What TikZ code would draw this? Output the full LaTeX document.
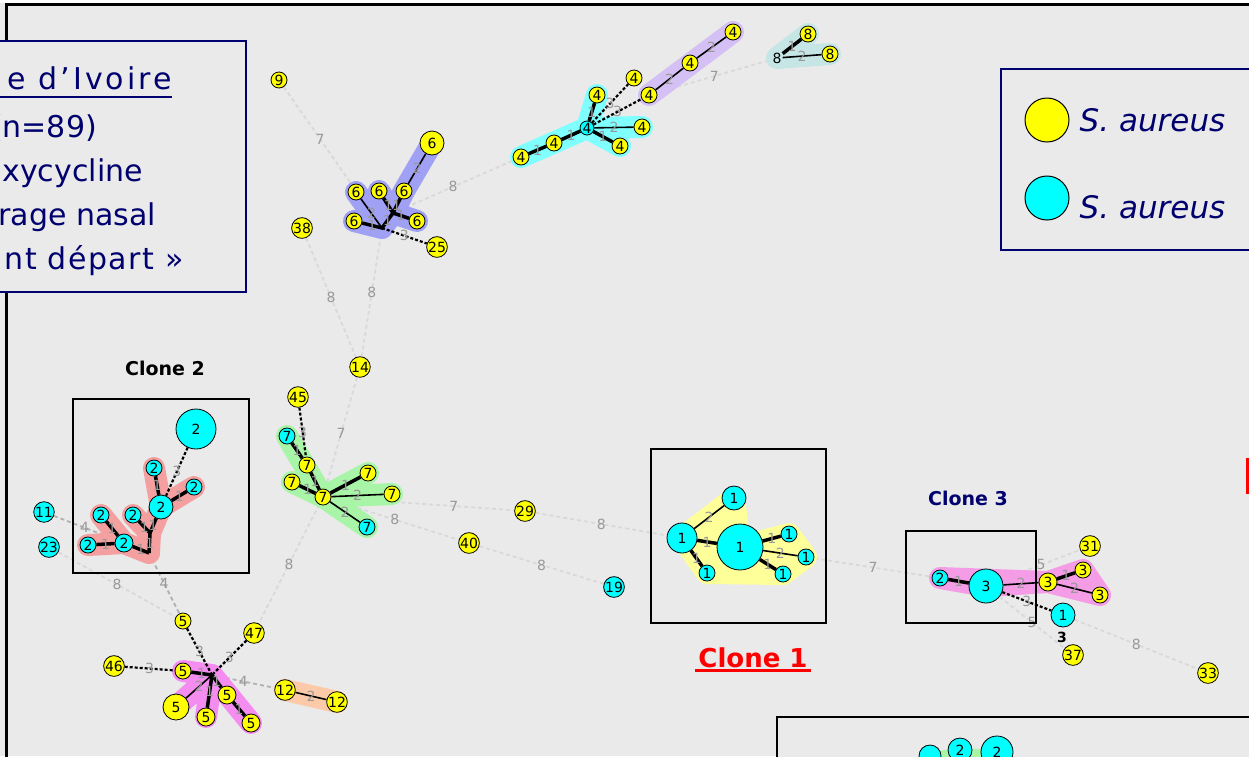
\documentclass[tikz,border=0pt]{standalone}
\usepackage{fontspec}
\setmainfont{DejaVu Sans}
\usetikzlibrary{positioning,calc}

\definecolor{panel}{RGB}{234,234,234}
\definecolor{navy}{RGB}{0,0,110}
\definecolor{aqua}{RGB}{0,255,255}
\definecolor{lemon}{RGB}{255,255,0}
\definecolor{hblue}{RGB}{160,160,245}
\definecolor{hcyan}{RGB}{128,255,255}
\definecolor{hlav}{RGB}{212,192,245}
\definecolor{hteal}{RGB}{198,230,230}
\definecolor{hgreen}{RGB}{168,245,168}
\definecolor{hsalmon}{RGB}{245,160,160}
\definecolor{hmag}{RGB}{245,140,240}
\definecolor{hpeach}{RGB}{252,202,168}
\definecolor{hyellow}{RGB}{255,255,153}
\definecolor{hpink}{RGB}{245,156,230}

\pgfdeclarelayer{back}
\pgfdeclarelayer{far}
\pgfdeclarelayer{hull}
\pgfsetlayers{back,far,hull,main}

\begin{document}
\begin{tikzpicture}[x=1pt,y=-1pt,
    sa/.style={circle,draw,line width=0.8pt,fill=lemon,inner sep=0pt,minimum size=16pt,font=\fontsize{14}{14}\selectfont},
    mr/.style={sa,fill=aqua},
    link/.style={line width=3.5pt},
    link2/.style={line width=1.6pt},
    weak/.style={line width=2.2pt,dash pattern=on 3pt off 2pt},
    far/.style={line width=1.8pt,gray!30,dash pattern=on 4pt off 3pt},
    lab/.style={text=gray!80,font=\fontsize{14}{14}\selectfont,inner sep=1pt},
    hull/.style={line width=22pt,line cap=round,line join=round},
    title/.style={font=\fontsize{19}{19}\selectfont\bfseries},
    boxtxt/.style={anchor=base east,text=navy,font=\fontsize{30}{30}\selectfont,inner sep=0pt}]

\useasboundingbox (0,0) rectangle (1249,756);
\clip (0,0) rectangle (1249,756);

\begin{pgfonlayer}{back}
\fill[panel] (0,0) rectangle (1249,756);
\fill[white] (0,0) rectangle (1249,3);
\draw[line width=3pt] (6.5,800) -- (6.5,4.5) -- (1260,4.5);
\end{pgfonlayer}

% group 6
\node[sa] (n9) at (279,80) {9};
\node[sa,minimum size=24pt] (s6big) at (432,143) {6};
\node[sa] (s6a) at (356,192) {6};
\node[sa] (s6b) at (379,191) {6};
\node[sa] (s6c) at (404,191) {6};
\node[sa] (s6d) at (354,221) {6};
\node[sa] (s6e) at (417,221) {6};
\coordinate (h6a) at (382,228);
\coordinate (h6b) at (393,213);
\node[sa] (n38) at (302,228) {38};
\node[sa] (n25) at (437,247) {25};
\node[sa] (n14) at (360,367) {14};

% group 4 and 8
\node[mr,minimum size=14pt] (h4) at (587,128) {4};
\node[sa] (s4l1) at (554,143) {4};
\node[sa] (s4l2) at (521,157) {4};
\node[sa] (s4u) at (597,95) {4};
\node[sa] (s4da) at (634,78) {4};
\node[sa] (s4db) at (649,95) {4};
\node[sa] (s4m) at (690,63) {4};
\node[sa] (s4t) at (733,32) {4};
\node[sa] (s4r1) at (642,127) {4};
\node[sa] (s4r2) at (620,146) {4};
\node[inner sep=1pt,font=\fontsize{14}{14}\selectfont] (h8) at (777,58) {8};
\node[sa] (s8a) at (808,34) {8};
\node[sa] (s8b) at (830,54) {8};

% group 7
\node[sa] (n45) at (298,397) {45};
\node[mr] (s7a) at (287,436) {7};
\node[sa] (s7b) at (307,465) {7};
\node[sa] (s7c) at (292,482) {7};
\node[sa] (h7) at (323,497) {7};
\node[sa] (s7d) at (368,473) {7};
\node[sa] (s7e) at (392,494) {7};
\node[mr] (s7f) at (367,527) {7};
\node[sa] (n29) at (525,511) {29};
\node[sa] (n40) at (469,543) {40};
\node[mr] (n19) at (614,587) {19};

% clone 2
\node[title] at (165,368) {Clone 2};
\draw[line width=1.2pt] (73,399) rectangle (249,573);
\node[mr,minimum size=40pt] (c2big) at (196,429) {2};
\node[mr] (c2a) at (154,468) {2};
\node[mr,minimum size=24pt] (c2b) at (161,507) {2};
\node[mr] (c2c) at (194,487) {2};
\node[mr] (c2d) at (101,515) {2};
\node[mr] (c2e) at (133,515) {2};
\node[mr,minimum size=18pt] (c2f) at (124,543) {2};
\node[mr] (c2g) at (88,545) {2};
\coordinate (j1) at (150,533);
\coordinate (j2) at (149,553);
\node[mr] (n11) at (44,512) {11};
\node[mr] (n23) at (49,547) {23};

% group 5
\node[sa] (s5t) at (183,621) {5};
\node[sa] (n47) at (254,633) {47};
\node[sa] (n46) at (114,666) {46};
\node[sa] (s5m) at (183,671) {5};
\coordinate (h5) at (212,675);
\node[sa,minimum size=26pt] (s5big) at (176,707) {5};
\node[sa,minimum size=18pt] (s5s) at (206,717) {5};
\node[sa,minimum size=18pt] (s5r1) at (227,695) {5};
\node[sa,minimum size=18pt] (s5r2) at (251,723) {5};
\node[sa,minimum size=18pt] (n12a) at (285,690) {12};
\node[sa,minimum size=18pt] (n12b) at (337,702) {12};

% clone 1
\draw[line width=1.2pt] (651,449) rectangle (826,623);
\node[mr,minimum size=30pt] (c1A) at (682,538) {1};
\node[mr,minimum size=24pt] (c1t) at (734,498) {1};
\node[mr,minimum size=46pt] (c1B) at (740,547) {1};
\node[mr] (c1s) at (707,573) {1};
\node[mr] (c1r1) at (789,534) {1};
\node[mr] (c1r2) at (806,557) {1};
\node[mr] (c1r3) at (783,574) {1};
\node[font=\fontsize{26}{26}\selectfont\bfseries,text=red] (t1) at (753,658) {Clone 1};
\draw[red,line width=2.5pt] (t1.south west) ++(0,-1) -- ($(t1.south east)+(0,-1)$);

% clone 3
\node[title,text=navy] at (968,498) {Clone 3};
\draw[line width=1.2pt] (906,531) rectangle (1036,623);
\node[mr] (c3a) at (940,578) {2};
\node[mr,minimum size=34pt] (c3B) at (986,586) {3};
\node[sa,minimum size=18pt] (c3y1) at (1048,582) {3};
\node[sa] (c3y2) at (1083,570) {3};
\node[sa] (c3y3) at (1100,595) {3};
\node[sa] (n31) at (1090,546) {31};
\node[mr,minimum size=24pt] (c3c) at (1063,615) {1};
\node[font=\fontsize{14}{14}\selectfont\bfseries] at (1062,637) {3};
\node[sa] (n37) at (1073,655) {37};
\node[sa] (n33) at (1208,673) {33};

% far links
\begin{pgfonlayer}{far}
\draw[far] (n9) -- node[lab,pos=0.37]{7} (h6a);
\draw[far] (h6b) -- node[lab]{8} (s4l2);
\draw[far] (n38) -- node[lab]{8} (n14);
\draw[far] (h6a) -- node[lab]{8} (n14);
\draw[far] (s4db) -- node[lab]{7} (h8);
\draw[far] (n14) -- node[lab]{7} (h7);
\draw[far] (h7) -- node[lab,pos=0.67]{7} (n29);
\draw[far] (h7) -- node[lab]{8} (n40);
\draw[far] (h7) -- node[lab]{8} (n47);
\draw[far] (n29) -- node[lab]{8} (c1A);
\draw[far] (n40) -- node[lab]{8} (n19);
\draw[far,gray!60] (n11) -- node[lab]{4} (c2f);
\draw[far] (n23) -- node[lab]{8} (s5t);
\draw[far,gray!60] (j2) -- node[lab]{4} (s5t);
\draw[far,gray!60] (h5) -- node[lab]{4} (n12a);
\draw[far] (c1r2) -- node[lab]{7} (c3a);
\draw[far] (c3B) -- node[lab]{5} (n31);
\draw[far] (c3B) -- node[lab]{5} (n37);
\draw[far] (c3c) -- node[lab]{8} (n33);
\end{pgfonlayer}

% clusters
\begin{pgfonlayer}{hull}
\draw[hull,hblue] (s6a.center) -- (h6a) -- (s6d.center) (s6b.center) -- (h6b) -- (s6e.center) (h6a) -- (h6b) -- (s6c.center) -- (s6big.center);
\draw[hull,hcyan] (s4l2.center) -- (h4.center) -- (s4u.center) (s4r1.center) -- (h4.center) -- (s4r2.center);
\draw[hull,hlav] (s4db.center) -- (s4t.center);
\draw[hull,hteal] (s8a.center) -- (h8.center) -- (s8b.center);
\draw[hull,hgreen] (s7a.center) -- (h7.center) -- (s7f.center) (s7c.center) -- (h7.center) -- (s7d.center) (h7.center) -- (s7e.center);
\draw[hull,hsalmon] (c2a.center) -- (c2b.center) -- (c2c.center) (c2b.center) -- (j1) -- (c2e.center) (j1) -- (j2) -- (c2f.center) -- (c2d.center) (c2f.center) -- (c2g.center);
\draw[hull,hmag] (s5m.center) -- (h5) -- (s5big.center) (s5s.center) -- (h5) -- (s5r2.center);
\draw[hull,hpeach] (n12a.center) -- (n12b.center);
\filldraw[hull,hyellow] (c1t.center) -- (c1A.center) -- (c1s.center) -- (c1r3.center) -- (c1r2.center) -- (c1r1.center) -- (c1B.center) -- cycle;
\filldraw[hull,hpink] (c3a.center) -- (c3B.center) -- (c3y1.center) -- (c3y2.center) -- (c3y3.center) -- (c3y1.center) -- cycle;
\end{pgfonlayer}

% close links
\draw[link2] (s6a) -- node[lab]{2} (h6a);
\draw[link] (s6d) -- node[lab]{1} (h6a) -- node[lab]{1} (h6b);
\draw[link] (s6b) -- node[lab]{1} (h6b);
\draw[link] (s6c) -- node[lab]{1} (h6b);
\draw[link] (s6e) -- node[lab]{1} (h6b);
\draw[link2] (s6big) -- node[lab]{2} (s6c);
\draw[weak] (h6a) -- node[lab]{3} (n25);

\draw[link] (h4) -- node[lab]{1} (s4l1);
\draw[link] (s4l1) -- node[lab]{1} (s4l2);
\draw[link] (h4) -- node[lab]{1} (s4u);
\draw[link2] (h4) -- node[lab]{2} (s4r1);
\draw[link] (h4) -- node[lab]{1} (s4r2);
\draw[weak] (h4) -- node[lab]{3} (s4da);
\draw[weak] (h4) -- node[lab]{3} (s4db);
\draw[link2] (s4db) -- node[lab]{2} (s4m);
\draw[link2] (s4m) -- node[lab]{2} (s4t);
\draw[link] (h8) -- node[lab]{1} (s8a);
\draw[link2] (h8) -- node[lab]{2} (s8b);

\draw[weak] (n45) -- node[lab]{3} (s7b);
\draw[link] (s7a) -- node[lab]{1} (s7b);
\draw[link] (s7b) -- node[lab]{1} (h7);
\draw[link] (s7c) -- node[lab]{1} (h7);
\draw[link] (h7) -- node[lab]{1} (s7d);
\draw[link2] (h7) -- node[lab]{2} (s7e);
\draw[link2] (h7) -- node[lab]{2} (s7f);

\draw[weak] (c2big) -- node[lab]{3} (c2b);
\draw[link] (c2a) -- node[lab]{1} (c2b);
\draw[link] (c2b) -- node[lab]{1} (c2c);
\draw[link] (c2b) -- node[lab]{1} (j1);
\draw[link] (c2e) -- node[lab]{1} (j1);
\draw[link] (j1) -- node[lab]{1} (j2);
\draw[link] (j2) -- node[lab]{1} (c2f);
\draw[link] (c2f) -- node[lab]{1} (c2d);
\draw[link] (c2f) -- node[lab]{1} (c2g);

\draw[weak] (s5t) -- node[lab]{3} (h5);
\draw[weak] (n47) -- node[lab]{3} (h5);
\draw[weak] (n46) -- node[lab]{3} (s5m);
\draw[link] (s5m) -- node[lab]{1} (h5);
\draw[link2] (h5) -- node[lab]{2} (s5big);
\draw[link] (h5) -- node[lab]{1} (s5s);
\draw[link] (h5) -- node[lab]{1} (s5r1);
\draw[link] (s5r1) -- node[lab]{1} (s5r2);
\draw[link2] (n12a) -- node[lab]{2} (n12b);

\draw[link2] (c1A) -- node[lab]{2} (c1t);
\draw[link] (c1A) -- node[lab]{1} (c1B);
\draw[link] (c1A) -- node[lab]{1} (c1s);
\draw[link] (c1B) -- node[lab]{1} (c1r1);
\draw[link2] (c1B) -- node[lab]{2} (c1r2);
\draw[link] (c1B) -- node[lab]{1} (c1r3);

\draw[link] (c3a) -- node[lab]{1} (c3B);
\draw[link2] (c3B) -- node[lab]{2} (c3y1);
\draw[link] (c3y1) -- node[lab]{1} (c3y2);
\draw[link2] (c3y1) -- node[lab]{2} (c3y3);
\draw[weak] (c3B) -- node[lab]{3} (c3c);

% left box
\draw[navy,fill=panel,line width=1.5pt] (-5,41) rectangle (246,292);
\node[boxtxt] (l1) at (172,89) {\addfontfeatures{LetterSpace=10}e d'Ivoire};
\draw[navy,line width=2.5pt] (0,97) -- (172,97);
\node[boxtxt] at (97,137) {(n=89)};
\node[boxtxt] at (143,181) {xycycline};
\node[boxtxt] at (156,225) {rage nasal};
\node[boxtxt] at (184,269) {\addfontfeatures{LetterSpace=5}nt départ »};

% legend
\draw[navy,fill=panel,line width=1.5pt] (1001,69) rectangle (1260,250);
\node[sa,minimum size=44pt,line width=1pt] (ksa) at (1047,120) {};
\node[mr,minimum size=44pt,line width=1pt] (kmr) at (1047,198) {};
\node[right=10pt of ksa,text=navy,font=\fontsize{31}{31}\selectfont\itshape,inner sep=0pt] {S. aureus};
\node[right=10pt of kmr,text=navy,font=\fontsize{31}{31}\selectfont\itshape,inner sep=0pt,yshift=-9pt] {S. aureus};

% bottom box and edge mark
\fill[red] (1246,458) rectangle (1252,494);
\draw[line width=2.5pt,fill=panel] (777,717) rectangle (1270,780);
\fill[hgreen] (930,752) -- (960,748) -- (997,750) -- (997,760) -- (930,760) -- cycle;
\node[mr,minimum size=22pt] (b1) at (930,756) {};
\node[mr,minimum size=24pt] (b2) at (960,750) {2};
\node[mr,minimum size=32pt] (b3) at (997,752) {2};
\end{tikzpicture}
\end{document}
